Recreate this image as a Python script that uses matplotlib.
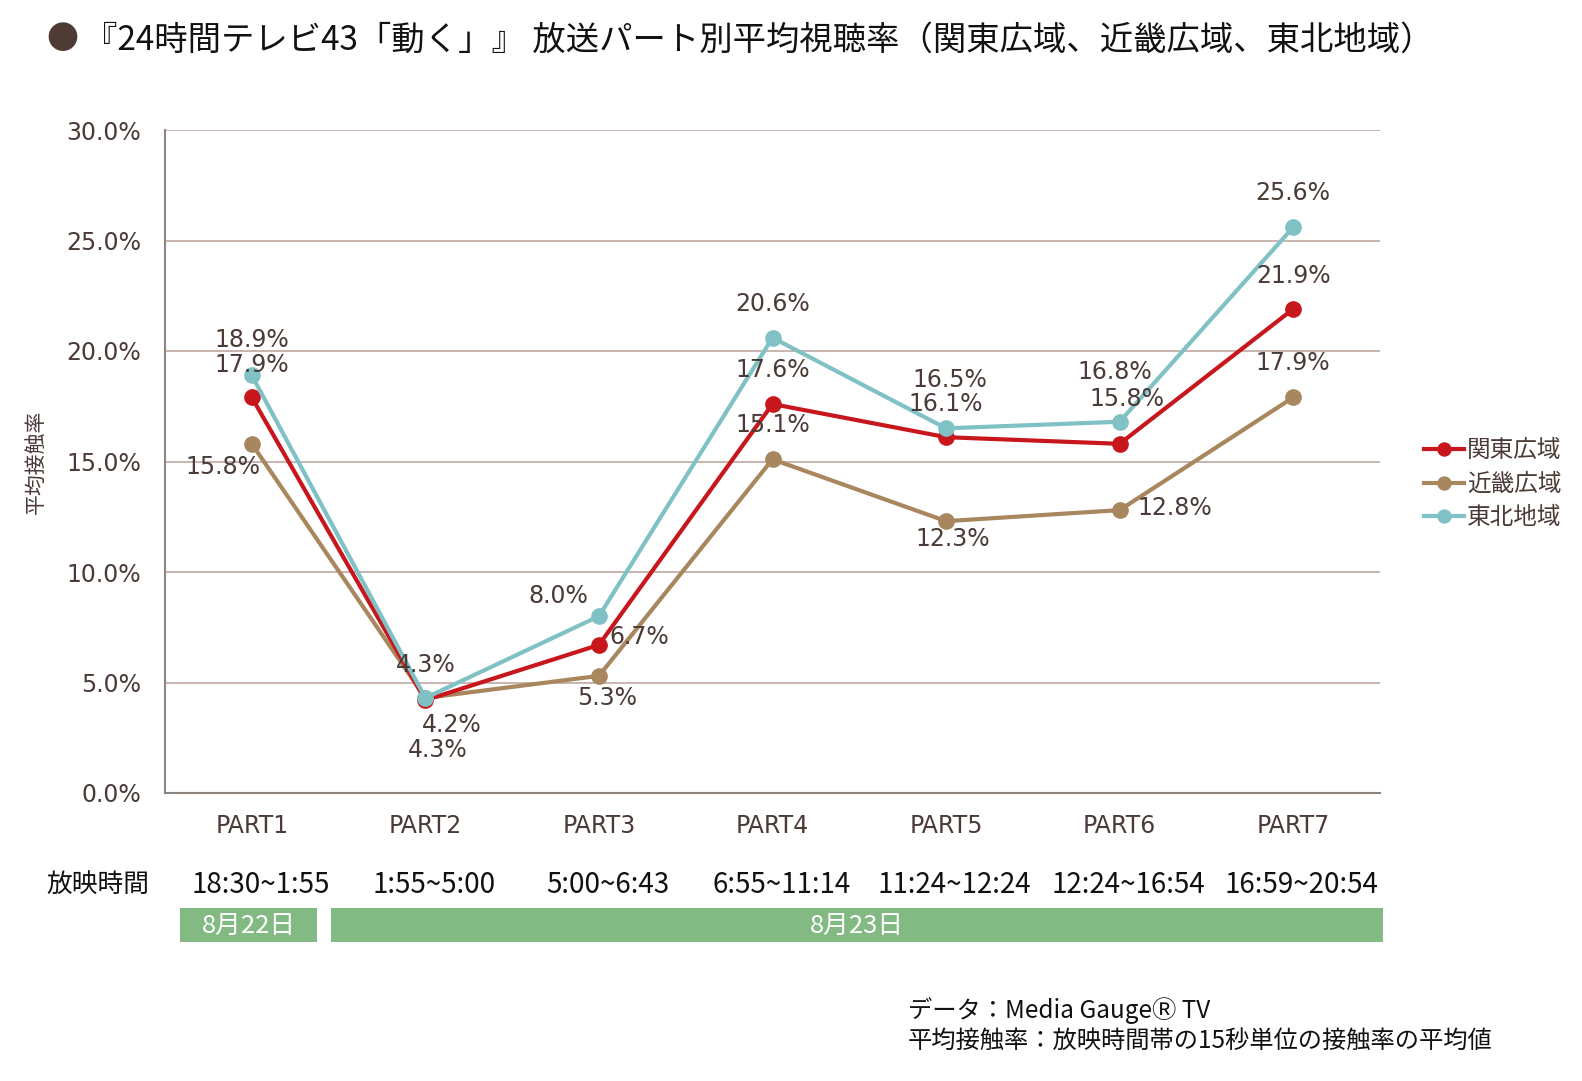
import matplotlib
matplotlib.use("Agg")
import matplotlib.pyplot as plt
from matplotlib.patches import Rectangle
import matplotlib.transforms as mtransforms

plt.rcParams['font.family'] = ['Noto Sans CJK JP', 'DejaVu Sans']

# data
parts = ["PART1", "PART2", "PART3", "PART4", "PART5", "PART6", "PART7"]
times = ["18:30~1:55", "1:55~5:00", "5:00~6:43", "6:55~11:14",
         "11:24~12:24", "12:24~16:54", "16:59~20:54"]
kanto = [17.9, 4.2, 6.7, 17.6, 16.1, 15.8, 21.9]
kinki = [15.8, 4.3, 5.3, 15.1, 12.3, 12.8, 17.9]
tohoku = [18.9, 4.3, 8.0, 20.6, 16.5, 16.8, 25.6]
series_names = ["関東広域", "近畿広域", "東北地域"]
dates = ["8月22日", "8月23日"]
yticks = [0, 5, 10, 15, 20, 25, 30]

# label offsets (pixels) per series / point
off_kanto = [(0, 32), (26, -25), (40, 8), (0, 34), (0, 33), (7, 45), (0, 33)]
off_kinki = [(-29, -23), (12, -52), (8, -22), (0, 34), (7, -18), (55, 2), (0, 34)]
off_tohoku = [(0, 35), (0, 33), (-41, 20), (0, 34), (4, 48), (-5, 50), (0, 34)]

colors = ["#c8161d", "#a8865e", "#7fc1c4"]
zorders = [3, 2, 4]
txt_c = "#4a3b36"

fig = plt.figure(figsize=(15.82, 10.81), dpi=100)
ax = fig.add_axes([165/1582, 1-793/1081, (1380-165)/1582, (793-130)/1081])

x = list(range(len(parts)))
handles = []
for vals, offs, c, z, name in zip([kanto, kinki, tohoku], [off_kanto, off_kinki, off_tohoku],
                                  colors, zorders, series_names):
    h, = ax.plot(x, vals, color=c, lw=3, marker='o', ms=11, label=name, zorder=z)
    handles.append(h)
    for xi, v, o in zip(x, vals, offs):
        ax.annotate(f"{v:.1f}%", (xi, v), xytext=o, textcoords='offset pixels',
                    ha='center', va='center', fontsize=17, color=txt_c,
                    family='DejaVu Sans', zorder=5)

ax.set_xlim(-0.5, 6.5)
ax.set_ylim(0, 30)
ax.set_yticks(yticks)
ax.set_yticklabels([f"{t:.1f}%" for t in yticks], family='DejaVu Sans',
                   fontsize=17, color=txt_c)
ax.set_xticks(x)
ax.set_xticklabels(parts, family='DejaVu Sans', fontsize=17, color=txt_c)
ax.tick_params(length=0, pad=15)
ax.tick_params(axis='y', pad=17)
ax.yaxis.grid(True, color="#c0a8a2", lw=1.2)
ax.set_axisbelow(True)
for s in ['top', 'right']:
    ax.spines[s].set_visible(False)
for s in ['left', 'bottom']:
    ax.spines[s].set_color("#8c8580")
    ax.spines[s].set_linewidth(1.5)

ax.set_ylabel("平均接触率", fontsize=15, color=txt_c, labelpad=14)

leg = ax.legend(handles=handles, loc='upper left', bbox_to_anchor=(1403/1582, 1-418/1081),
                bbox_transform=fig.transFigure, frameon=False, fontsize=17,
                handlelength=1.7, handletextpad=0.1, labelspacing=0.45,
                markerscale=0.85)
for t in leg.get_texts():
    t.set_color(txt_c)

# title
fig.text(46/1582, 1-40/1081, "●", fontsize=23, color="#4e3b33", va='center', ha='left')
fig.text(84/1582, 1-40/1081, "『24時間テレビ43「動く」』 放送パート別平均視聴率（関東広域、近畿広域、東北地域）",
         fontsize=24, color="#111111", va='center', ha='left')

# time row
trans = mtransforms.blended_transform_factory(ax.transData, fig.transFigure)
fig.text(98/1582, 1-885/1081, "放映時間", fontsize=18.5, color="#111111", ha='center', va='center')
for xi, t in zip(x, times):
    ax.text(xi + 0.05, 1-885/1081, t, transform=trans, fontsize=20, color="#111111",
            ha='center', va='center')

# date bars
bar_spans = [(-0.414, 0.376), (0.456, 6.52)]
for (x0, x1), d in zip(bar_spans, dates):
    r = Rectangle((x0, 1-942/1081), x1-x0, 34/1081, transform=trans,
                  facecolor="#83b983", edgecolor='none', clip_on=False)
    fig.add_artist(r)
    fig.text((x0+x1)/2, 1-926/1081, d, transform=trans, fontsize=18.5, color='white',
             ha='center', va='center')

# footer
fig.text(908/1582, 1-1011/1081, "データ：Media GaugeⓇ TV", fontsize=17.5, color="#111111",
         ha='left', va='center')
fig.text(908/1582, 1-1041/1081, "平均接触率：放映時間帯の15秒単位の接触率の平均値", fontsize=17.5,
         color="#111111", ha='left', va='center')

fig.savefig("out.png", dpi=100)
